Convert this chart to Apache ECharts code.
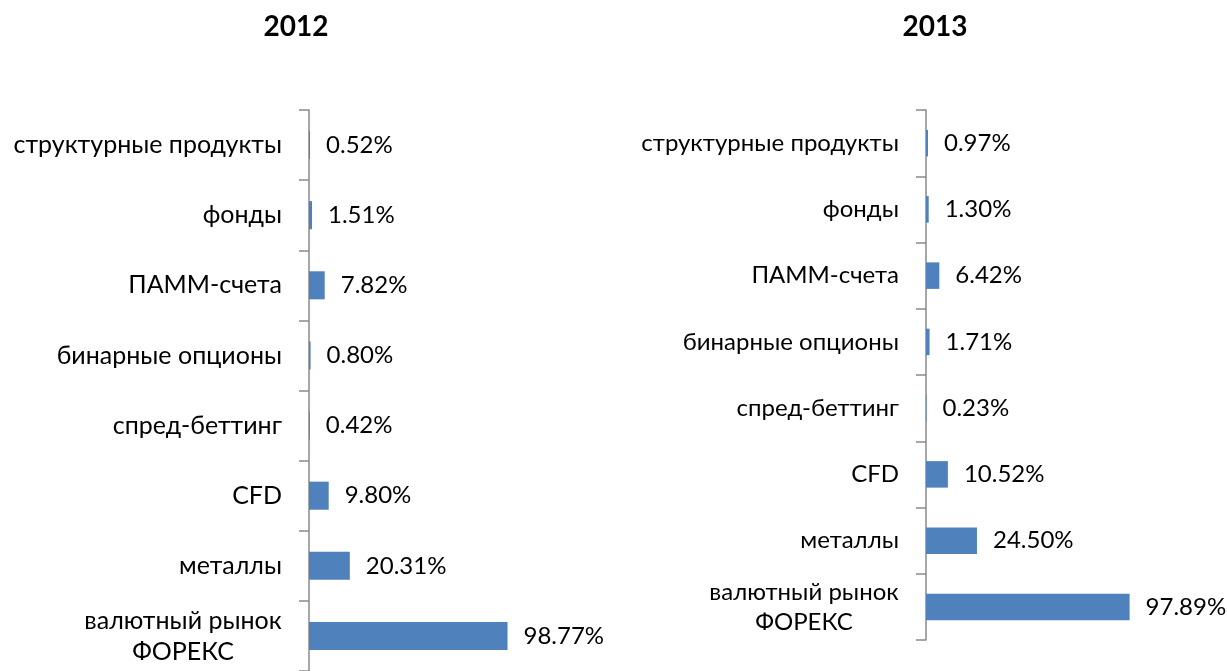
<!DOCTYPE html>
<html>
<head>
<meta charset="utf-8">
<script src="https://cdn.jsdelivr.net/npm/echarts@6/dist/echarts.min.js"></script>
<style>
  html, body { margin: 0; padding: 0; background: #fff; }
  #main { width: 1227px; height: 671px; }
</style>
</head>
<body>
<div id="main"></div>
<script>
// категории сверху вниз
let categories = ['структурные продукты', 'фонды', 'ПАММ-счета', 'бинарные опционы',
    'спред-беттинг', 'CFD', 'металлы', 'валютный рынок\nФОРЕКС'];
let values2012 = [0.52, 1.51, 7.82, 0.80, 0.42, 9.80, 20.31, 98.77];
let values2013 = [0.97, 1.30, 6.42, 1.71, 0.23, 10.52, 24.50, 97.89];
let titles = ['2012', '2013'];

let chart = echarts.init(document.getElementById('main'));
let font = 'Lato';
let valSize = 24;

//ширина самой длинной строки, чтобы центрировать двухстрочную подпись
function textWidth(s, size) {
    let ctx = document.createElement('canvas').getContext('2d');
    ctx.font = size + 'px ' + font;
    return Math.ceil(ctx.measureText(s).width);
}
function lineWidth(size) {
    let lines = categories.filter(function (c) { return c.indexOf('\n') >= 0; }).join('\n').split('\n');
    return Math.max.apply(null, lines.map(function (s) { return textWidth(s, size); }));
}

function catLabel(size, lh) {
    return {
        margin: 27,
        color: '#000',
        fontFamily: font,
        fontSize: size,
        lineHeight: lh,
        formatter: function (v) {
            if (v.indexOf('\n') < 0) return v;
            return v.split('\n').map(function (s) { return '{c|' + s + '}'; }).join('\n');
        },
        rich: {
            c: { width: lineWidth(size), align: 'center', fontFamily: font, fontSize: size, lineHeight: lh, color: '#000' }
        }
    };
}

function yAxis(idx, size, lh) {
    return {
        type: 'category',
        gridIndex: idx,
        inverse: true,
        data: categories,
        axisLine: { show: true, lineStyle: { color: '#8a8a8a', width: 1.5 } },
        axisTick: { show: true, inside: false, length: 10, lineStyle: { color: '#8a8a8a', width: 1.5 } },
        axisLabel: catLabel(size, lh)
    };
}

function series(idx, data) {
    return {
        type: 'bar',
        xAxisIndex: idx,
        yAxisIndex: idx,
        data: data,
        barWidth: '40%',
        itemStyle: { color: '#4F81BD' },
        label: {
            show: true,
            position: 'right',
            distance: 16,
            color: '#000',
            fontFamily: font,
            fontSize: valSize,
            formatter: function (p) { return p.value.toFixed(2) + '%'; }
        }
    };
}

let option = {
    backgroundColor: '#fff',
    animation: false,
    title: [
        { text: titles[0], left: 291, top: 8, textAlign: 'center',
          textStyle: { fontFamily: font, fontSize: 28, fontWeight: 'bold', color: '#000' } },
        { text: titles[1], left: 930, top: 8, textAlign: 'center',
          textStyle: { fontFamily: font, fontSize: 28, fontWeight: 'bold', color: '#000' } }
    ],
    grid: [
        { left: 309, top: 110, width: 201, height: 565 },
        { left: 926, top: 110, width: 208, height: 530 }
    ],
    xAxis: [
        { type: 'value', gridIndex: 0, min: 0, max: 100, show: false },
        { type: 'value', gridIndex: 1, min: 0, max: 100, show: false }
    ],
    yAxis: [yAxis(0, 25, 31), yAxis(1, 24, 30)],
    series: [series(0, values2012), series(1, values2013)]
};
chart.setOption(option);
</script>
</body>
</html>
